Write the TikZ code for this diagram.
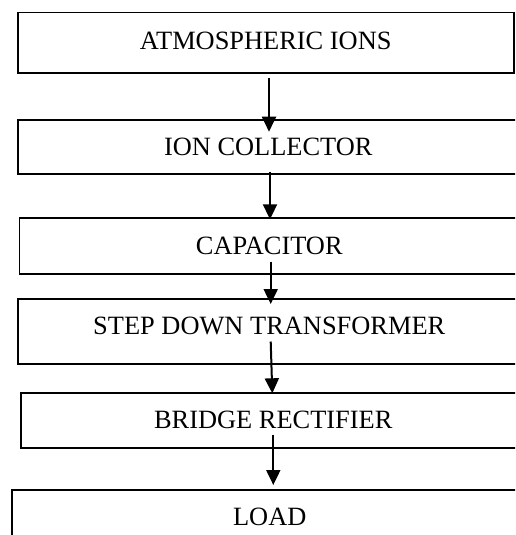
\documentclass[tikz,border=0pt]{standalone}
\usepackage{fontspec}
\setmainfont{Liberation Serif}
\usetikzlibrary{arrows.meta,calc}

\tikzset{
  stage/.style={draw=black, line width=1.5pt, rectangle, inner sep=0pt,
    anchor=north west, text height=17.3pt, text depth=0pt,
    font=\fontsize{26.4pt}{30pt}\selectfont},
  flow/.style={draw=black, line width=2pt,
    -{Triangle[width=14pt,length=15pt]}}
}

\begin{document}
\begin{tikzpicture}[x=1pt, y=-1pt]
  \clip (0,0) rectangle (515,535);
  \fill[white] (0,0) rectangle (515,535);

  % processing stages, top to bottom
  \node[stage, minimum width=496pt, minimum height=60pt, text depth=4pt]
    (ions) at (17,12) {ATMOSPHERIC IONS};
  \node[stage, minimum width=501pt, minimum height=54pt]
    (collector) at (17,119) {ION COLLECTOR};
  \node[stage, minimum width=500pt, minimum height=56pt]
    (capacitor) at (18.5,217) {CAPACITOR};
  \node[stage, minimum width=503pt, minimum height=65pt, text depth=10pt]
    (transformer) at (17,298) {STEP DOWN TRANSFORMER};
  \node[stage, minimum width=505pt, minimum height=55pt]
    (rectifier) at (20,392) {BRIDGE RECTIFIER};
  \node[stage, minimum width=516pt, minimum height=55pt]
    (load) at (11,489) {LOAD};

  % connectors between stages
  \draw[flow] ($(ions.south west)+(252,4)$) -- ($(collector.north west)+(252,12.7)$);
  \draw[flow] ($(collector.south west)+(253,-2.3)$) -- ($(capacitor.north west)+(251.5,2.3)$);
  \draw[flow] ($(capacitor.south west)+(252.2,-13)$) -- ($(transformer.north west)+(253.7,6)$);
  \draw[flow] ($(transformer.south west)+(253.7,-23)$) -- ($(rectifier.north west)+(252.3,1.3)$);
  \draw[flow] ($(rectifier.south west)+(253.3,-14)$) -- ($(load.north west)+(262.3,-4)$);
\end{tikzpicture}
\end{document}
